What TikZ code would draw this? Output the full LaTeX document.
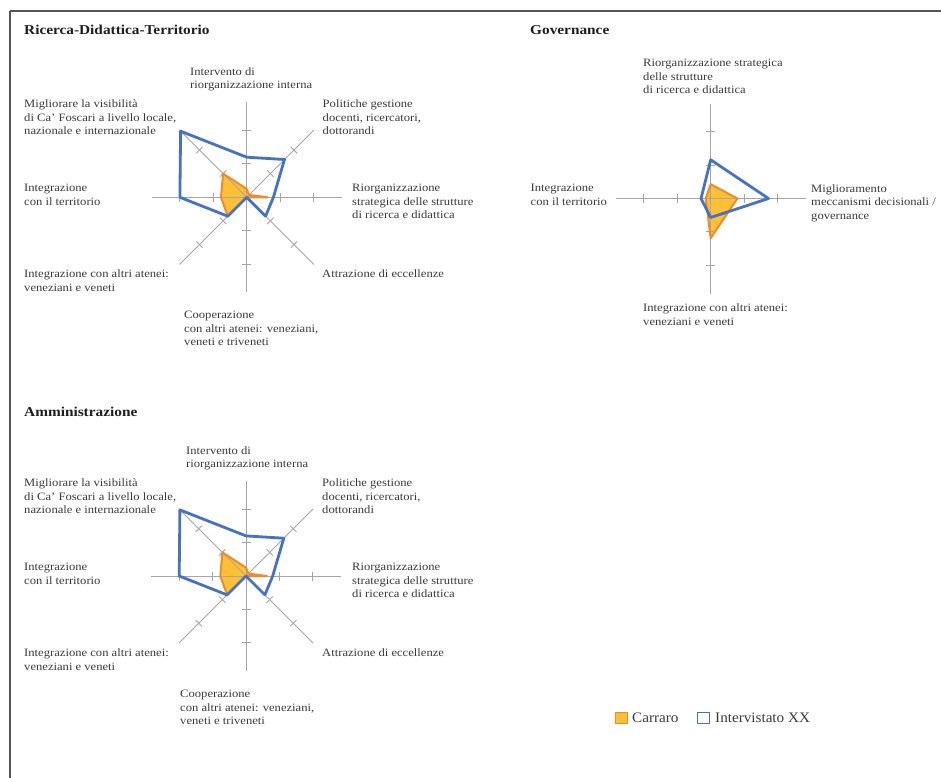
\documentclass[tikz,border=0pt]{standalone}
\usepackage{fontspec}
\setmainfont{Liberation Serif}
\newfontfamily\lblfont[FakeStretch=1.12]{Liberation Serif}
\newfontfamily\headfont[FakeStretch=1.13]{Liberation Serif}
\newfontfamily\keyfont[FakeStretch=1.05]{Liberation Serif}
\usetikzlibrary{calc}

\definecolor{axisgray}{HTML}{A6A6A6}
\definecolor{framegray}{HTML}{555555}
\definecolor{xxblue}{HTML}{4472C4}
\definecolor{carrfill}{HTML}{FFC133}
\definecolor{carrline}{HTML}{F08A2C}
\definecolor{labelgray}{HTML}{3A3A3A}
\definecolor{headgray}{HTML}{1E1E1E}

\tikzset{
  axisline/.style={draw=axisgray, line width=0.9bp},
  frameline/.style={draw=framegray, line width=1.6bp},
  lbl/.style={anchor=north west, inner sep=0pt, align=left,
    font=\lblfont\fontsize{11.3}{13.6}\selectfont, text=labelgray},
  head/.style={anchor=base west, inner sep=0pt,
    font=\headfont\bfseries\fontsize{13.6}{16}\selectfont, text=headgray},
  keytext/.style={anchor=base west, inner sep=0pt,
    font=\keyfont\fontsize{14.5}{17}\selectfont, text=labelgray},
  carrarea/.style={fill=carrfill},
  carredge/.style={draw=carrline, line width=2bp, line join=round},
  xxedge/.style={draw=xxblue, line width=2.8bp, line join=round},
}

% axes of a radar: #1 = list of angles
\newcommand{\radaraxes}[1]{%
  \foreach \a in {#1} {
    \draw[axisline] (0,0) -- (\a:95);
    \foreach \r in {33.4,66.8}
      \draw[axisline] ($(\a:\r)+(\a+90:4.5)$) -- ($(\a:\r)+(\a-90:4.5)$);
  }%
}

% eight-axis radar with both series
\newcommand{\radareight}{%
  \fill[carrarea] (0,-8.4) -- (2.4,-2.4) -- (21,0) -- (0,0) -- (-18.9,18.9)
    -- (-25.7,0) -- (-23.6,-23.6) -- cycle;
  \radaraxes{-90,-45,0,45,90,135,180,225}
  \draw[carredge] (0,-8.4) -- (2.4,-2.4) -- (21,0) -- (0,0) -- (-18.9,18.9)
    -- (-25.7,0) -- (-23.6,-23.6) -- cycle;
  \draw[xxedge] (0,-40.1) -- (37.8,-37.8) -- (26.7,0) -- (18.9,18.9) -- (0,0)
    -- (-18.9,18.9) -- (-66.8,0) -- (-66.1,-66.1) -- cycle;
}

\begin{document}
\begin{tikzpicture}[x=1bp,y=-1bp]
\useasboundingbox (0,0) rectangle (941,778);

% page frame (top and left rules)
\draw[frameline] (10,11) -- (941,11);
\draw[frameline] (10,11) -- (10,778);

% ---------- Ricerca-Didattica-Territorio ----------
\node[head] (h1) at (24,35) {Ricerca-Didattica-Territorio};
\begin{scope}[shift={(246.7,197.3)}]
  \radareight
\end{scope}
\node[lbl] (a1) at (190,67) {Intervento di\\riorganizzazione interna};
\node[lbl] (a2) at (322.5,99.5) {Politiche gestione\\docenti, ricercatori,\\dottorandi};
\node[lbl] (a3) at (352,184) {Riorganizzazione\\strategica delle strutture\\di ricerca e didattica};
\node[lbl] (a4) at (322,269.5) {Attrazione di eccellenze};
\node[lbl] (a5) at (184,311) {Cooperazione\\con altri atenei: veneziani,\\veneti e triveneti};
\node[lbl] (a6) at (24,269.5) {Integrazione con altri atenei:\\veneziani e veneti};
\node[lbl] (a7) at (24,184) {Integrazione\\con il territorio};
\node[lbl] (a8) at (24,99.5) {Migliorare la visibilità\\di Ca’ Foscari a livello locale,\\nazionale e internazionale};

% ---------- Governance ----------
\node[head] (h2) at (530,35) {Governance};
\begin{scope}[shift={(710.7,198.5)}]
  \fill[carrarea] (0,-14.3) -- (26.7,0) -- (0,39.7) -- (-5,0) -- cycle;
  \radaraxes{-90,0,90,180}
  \draw[carredge] (0,-14.3) -- (26.7,0) -- (0,39.7) -- (-5,0) -- cycle;
  \draw[xxedge] (0,-38.7) -- (57.8,0) -- (0,19) -- (-9.7,0) -- cycle;
\end{scope}
\node[lbl] (g1) at (643,59) {Riorganizzazione strategica\\delle strutture\\di ricerca e didattica};
\node[lbl] (g2) at (811,184) {Miglioramento\\meccanismi decisionali /\\governance};
\node[lbl] (g3) at (643,303.5) {Integrazione con altri atenei:\\veneziani e veneti};
\node[lbl] (g4) at (530.5,184) {Integrazione\\con il territorio};

% ---------- Amministrazione ----------
\node[head] (h3) at (24,416) {Amministrazione};
\begin{scope}[shift={(246,576)}]
  \radareight
\end{scope}
\node[lbl] (b1) at (186,446) {Intervento di\\riorganizzazione interna};
\node[lbl] (b2) at (322,478.5) {Politiche gestione\\docenti, ricercatori,\\dottorandi};
\node[lbl] (b3) at (352,563) {Riorganizzazione\\strategica delle strutture\\di ricerca e didattica};
\node[lbl] (b4) at (322,648.5) {Attrazione di eccellenze};
\node[lbl] (b5) at (180,690) {Cooperazione\\con altri atenei: veneziani,\\veneti e triveneti};
\node[lbl] (b6) at (24,648.5) {Integrazione con altri atenei:\\veneziani e veneti};
\node[lbl] (b7) at (24,563) {Integrazione\\con il territorio};
\node[lbl] (b8) at (24,478.5) {Migliorare la visibilità\\di Ca’ Foscari a livello locale,\\nazionale e internazionale};

% ---------- legend ----------
\draw[fill=carrfill, draw=carrline, line width=1.3bp] (615.7,712.3) rectangle (627.3,723.7);
\node[keytext] (k1) at (632,722.7) {Carraro};
\draw[fill=white, draw=xxblue, line width=1.5bp] (697.7,712.3) rectangle (709.3,723.7);
\node[keytext] (k2) at (715,722.7) {Intervistato XX};
\end{tikzpicture}
\end{document}
